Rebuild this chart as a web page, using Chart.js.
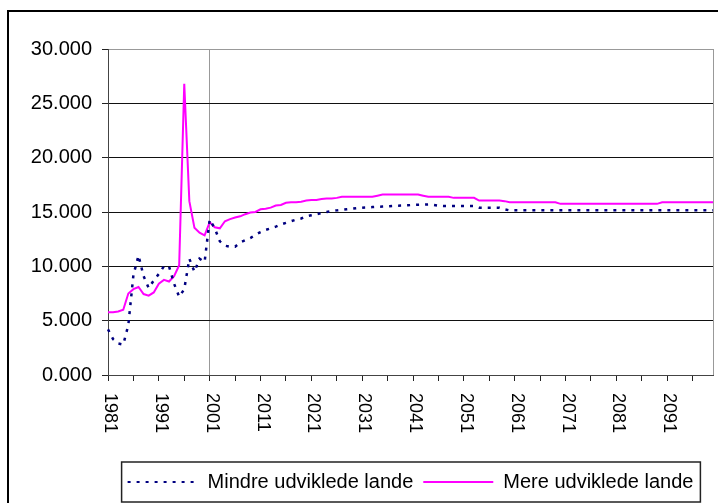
<!DOCTYPE html>
<html>
<head>
<meta charset="utf-8">
<script src="https://cdn.jsdelivr.net/npm/chart.js@4"></script>
<style>
  html, body { margin: 0; padding: 0; background: #fff; overflow: hidden; }
</style>
</head>
<body>
<canvas id="graf" width="718" height="503"></canvas>
<script>
// kategorier: årstal 1981-2100
const aar = [];
for (let a = 1981; a <= 2100; a++) aar.push(a);

const akseEtiketter = ['1981', '1991', '2001', '2011', '2021', '2031',
                       '2041', '2051', '2061', '2071', '2081', '2091'];

const mindreUdviklede = [
  4200, 3300, 2900, 2800, 4600, 9200, 11000, 9100, 8000, 8700,
  9300, 10000, 10000, 8400, 7200, 7900, 10700, 9500, 10700, 10400,
  14300, 13500, 12300, 11900, 11800, 11800, 12200, 12400, 12600, 12900,
  13150, 13350, 13500, 13650, 13850, 14000, 14150, 14300, 14400, 14600,
  14700, 14800, 14900, 15000, 15100, 15150, 15200, 15250, 15300, 15350,
  15400, 15420, 15450, 15480, 15500, 15520, 15550, 15580, 15600, 15620,
  15650, 15670, 15680, 15700, 15650, 15580, 15550, 15550, 15550, 15550,
  15550, 15550, 15550, 15400, 15400, 15400, 15400, 15400, 15250, 15150,
  15150, 15150, 15150, 15150, 15150, 15150, 15150, 15150, 15150, 15150,
  15150, 15150, 15150, 15150, 15150, 15150, 15150, 15150, 15150, 15150,
  15150, 15150, 15150, 15150, 15150, 15150, 15150, 15150, 15150, 15150,
  15150, 15150, 15150, 15150, 15150, 15150, 15150, 15150, 15150, 15150
];

const mereUdviklede = [
  5780, 5780, 5850, 6000, 7500, 7900, 8100, 7450, 7300, 7600,
  8400, 8750, 8600, 9100, 10100, 26800, 16000, 13550, 13100, 12850,
  14050, 13600, 13500, 14150, 14350, 14500, 14600, 14800, 14950, 15000,
  15250, 15300, 15400, 15600, 15650, 15850, 15900, 15900, 15950, 16050,
  16100, 16100, 16200, 16250, 16250, 16300, 16400, 16400, 16400, 16400,
  16400, 16400, 16400, 16500, 16600, 16600, 16600, 16600, 16600, 16600,
  16600, 16600, 16500, 16400, 16400, 16400, 16400, 16400, 16300, 16300,
  16300, 16300, 16300, 16050, 16050, 16050, 16050, 16050, 16000, 15900,
  15900, 15900, 15900, 15900, 15900, 15900, 15900, 15900, 15900, 15750,
  15750, 15750, 15750, 15750, 15750, 15750, 15750, 15750, 15750, 15750,
  15750, 15750, 15750, 15750, 15750, 15750, 15750, 15750, 15750, 15900,
  15900, 15900, 15900, 15900, 15900, 15900, 15900, 15900, 15900, 15900
];

const yTicks = [0, 5000, 10000, 15000, 20000, 25000, 30000];

const skrift = "'Liberation Sans', Arial, sans-serif";

// y-etiketter som i regnearket: 30.000, 0.000 osv.
const formatTal = v => (v / 1000).toFixed(3);

// tegner x-etiketter (læses oppefra og ned), rammen om forklaringen og yderrammen
const rammer = {
  id: 'rammer',
  afterDraw(chart) {
    const ctx = chart.ctx;
    const x = chart.scales.x;
    ctx.save();
    ctx.fillStyle = '#000';
    ctx.font = '18px ' + skrift;
    ctx.textAlign = 'left';
    ctx.textBaseline = 'middle';
    akseEtiketter.forEach(e => {
      const px = x.getPixelForValue(aar.indexOf(Number(e)));
      ctx.save();
      ctx.translate(px + 2, x.top + 18);
      ctx.rotate(Math.PI / 2);
      ctx.fillText(e, 0, 0);
      ctx.restore();
    });

    const lg = chart.legend;
    const bokse = lg.legendHitBoxes;
    if (bokse && bokse.length) {
      const sidst = bokse[bokse.length - 1];
      const v = bokse[0].left - 6;
      const h = sidst.left + sidst.width + 7;
      ctx.strokeStyle = '#222';
      ctx.lineWidth = 1.5;
      ctx.strokeRect(v, lg.top, h - v, lg.bottom - lg.top);
    }

    ctx.strokeStyle = '#000';
    ctx.lineWidth = 2;
    ctx.strokeRect(8, 11, 800, 600);
    ctx.restore();
  }
};

new Chart(document.getElementById('graf'), {
  type: 'line',
  data: {
    labels: aar,
    datasets: [
      {
        label: 'Mindre udviklede lande',
        data: mindreUdviklede,
        borderColor: '#000080',
        backgroundColor: 'rgba(0,0,0,0)',
        borderWidth: 2.5,
        borderDash: [3, 6],
        pointRadius: 0,
        tension: 0
      },
      {
        label: 'Mere udviklede lande',
        data: mereUdviklede,
        borderColor: '#ff00ff',
        backgroundColor: 'rgba(0,0,0,0)',
        borderWidth: 2,
        pointRadius: 0,
        tension: 0
      }
    ]
  },
  options: {
    responsive: false,
    animation: false,
    events: [],
    layout: { padding: { top: 49, bottom: 1, left: 0, right: 5 } },
    scales: {
      x: {
        type: 'category',
        offset: false,
        afterFit: s => { s.height = 87; },
        ticks: { display: false, autoSkip: false },
        border: { color: '#444', width: 1 },
        grid: {
          offset: false,
          tickLength: 6,
          lineWidth: 1,
          color: c => (c.index === 20 || c.index === aar.length - 1) ? '#999' : 'rgba(0,0,0,0)',
          tickColor: c => c.index % 5 === 0 ? '#222' : 'rgba(0,0,0,0)'
        }
      },
      y: {
        min: 0,
        max: 30000,
        afterFit: s => { s.width = 108; },
        afterBuildTicks: s => { s.ticks = yTicks.map(v => ({ value: v })); },
        ticks: {
          color: '#000',
          padding: 10,
          font: { family: skrift, size: 20 },
          callback: v => formatTal(v)
        },
        border: { color: '#444', width: 1 },
        grid: {
          tickLength: 6,
          lineWidth: 1,
          tickColor: '#222',
          color: c => c.tick.value === 30000 ? '#999' : (c.tick.value === 0 ? '#444' : '#111')
        }
      }
    },
    plugins: {
      tooltip: { enabled: false },
      legend: {
        position: 'bottom',
        fullSize: false,
        labels: {
          color: '#000',
          usePointStyle: true,
          pointStyle: 'line',
          pointStyleWidth: 70,
          boxWidth: 70,
          boxHeight: 10,
          padding: 10,
          font: { family: skrift, size: 20 },
          // linjestil i forklaringen hentes fra datasættet
          generateLabels: chart =>
            Chart.defaults.plugins.legend.labels.generateLabels(chart).map((it, i) => {
              const ds = chart.data.datasets[i];
              return Object.assign(it, {
                strokeStyle: ds.borderColor,
                lineWidth: 2,
                lineDash: ds.borderDash || []
              });
            })
        }
      }
    }
  },
  plugins: [rammer]
});
</script>
</body>
</html>
